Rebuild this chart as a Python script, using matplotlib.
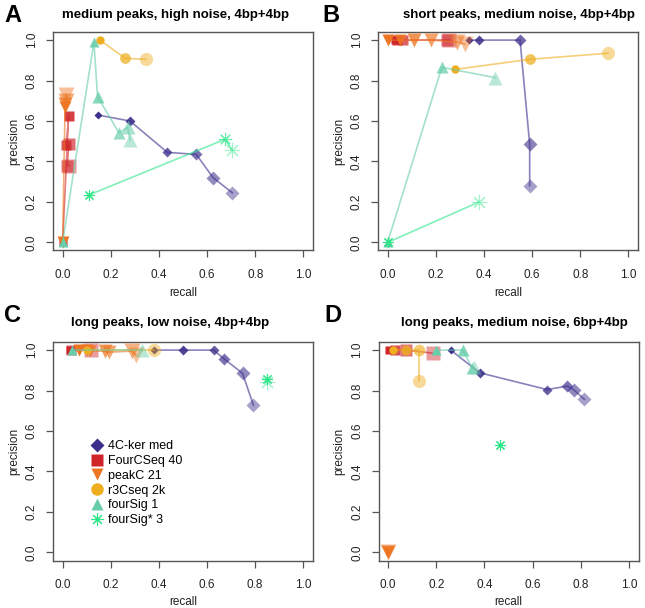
import matplotlib
matplotlib.use("Agg")
import matplotlib.pyplot as plt
from matplotlib.lines import Line2D
import numpy as np

plt.rcParams['font.family'] = ['Liberation Sans', 'DejaVu Sans']

methods = ['4C-ker med', 'FourCSeq 40', 'peakC 21', 'r3Cseq 2k', 'fourSig 1', 'fourSig* 3']
colors = ['#3b2f8c', '#d0262b', '#ee7521', '#eeae1f', '#66cda8', '#2fe58a']
markers = ['D', 's', 'v', 'o', '^', (8, 2, 0)]
size_range = [(4.0, 7.5), (6.0, 9.5), (8.0, 12.0), (6.0, 9.5), (7.0, 10.5), (8.0, 11.0)]

panel_titles = ['medium peaks, high noise, 4bp+4bp',
                'short peaks, medium noise, 4bp+4bp',
                'long peaks, low noise, 4bp+4bp',
                'long peaks, medium noise, 6bp+4bp']
panel_letters = ['A', 'B', 'C', 'D']

# recall / precision per panel, per method
recall_A = [[0.145, 0.28, 0.435, 0.555, 0.625, 0.705],
            [0.0, 0.025, 0.015, 0.025, 0.02, 0.028],
            [0.0, 0.01, 0.01, 0.015, 0.015],
            [0.155, 0.26, 0.345],
            [0.0, 0.13, 0.145, 0.235, 0.27, 0.28],
            [0.11, 0.675, 0.705]]
precision_A = [[0.63, 0.60, 0.445, 0.435, 0.32, 0.245],
               [0.0, 0.625, 0.48, 0.485, 0.38, 0.38],
               [0.0, 0.67, 0.685, 0.70, 0.73],
               [1.0, 0.91, 0.905],
               [0.0, 0.99, 0.72, 0.54, 0.57, 0.505],
               [0.235, 0.51, 0.455]]

recall_B = [[0.34, 0.38, 0.55, 0.59, 0.59],
            [0.03, 0.04, 0.065, 0.245, 0.255],
            [0.0, 0.05, 0.11, 0.18, 0.29, 0.32],
            [0.28, 0.59, 0.915],
            [0.0, 0.225, 0.445],
            [0.0, 0.38]]
precision_B = [[1.0, 1.0, 1.0, 0.486, 0.28],
               [1.0, 1.0, 1.0, 1.0, 1.0],
               [1.0, 1.0, 1.0, 1.0, 0.99, 0.98],
               [0.855, 0.905, 0.935],
               [0.0, 0.865, 0.815],
               [0.0, 0.2]]

recall_C = [[0.38, 0.5, 0.628, 0.672, 0.749, 0.794],
            [0.03, 0.035, 0.12],
            [0.07, 0.1, 0.115, 0.175, 0.195, 0.29, 0.305],
            [0.1, 0.38],
            [0.04, 0.33],
            [0.85, 0.85]]
precision_C = [[1.0, 1.0, 1.0, 0.957, 0.885, 0.728],
               [1.0, 1.0, 1.0],
               [1.0, 1.0, 0.995, 0.995, 0.99, 0.995, 0.975],
               [1.0, 1.0],
               [1.0, 1.0],
               [0.855, 0.84]]

recall_D = [[0.26, 0.38, 0.66, 0.745, 0.77, 0.815],
            [0.005, 0.03, 0.075, 0.185],
            [0.0, 0.0, 0.0],
            [0.02, 0.075, 0.13, 0.13],
            [0.2, 0.31, 0.35, 0.355],
            [0.465]]
precision_D = [[1.0, 0.888, 0.805, 0.822, 0.805, 0.757],
               [1.0, 1.0, 1.0, 0.985],
               [0.0, 0.0, 0.0],
               [1.0, 1.0, 1.0, 0.845],
               [1.0, 1.0, 0.91, 0.915],
               [0.53]]

recalls = [recall_A, recall_B, recall_C, recall_D]
precisions = [precision_A, precision_B, precision_C, precision_D]

W, H = 645, 608
fig = plt.figure(figsize=(W / 100, H / 100), dpi=100)

# axes boxes in pixels: left, top, width, height
boxes = [(53, 32, 260, 218.5), (378, 32, 260, 218.5),
         (53, 342, 259.5, 218.5), (378.5, 342, 260, 218.5)]
title_pos = [(175, 15), (519, 15), (170, 323), (514, 323)]
letter_pos = [(13, 15), (331, 15), (12.5, 316), (333, 316)]
xlabel_y = [293, 293, 602, 602]

for p in range(4):
    l, t, w, h = boxes[p]
    ax = fig.add_axes([l / W, 1 - (t + h) / H, w / W, h / H])
    for i in range(len(methods)):
        xs = recalls[p][i]
        ys = precisions[p][i]
        n = len(xs)
        ax.plot(xs, ys, '-', color=colors[i], alpha=0.6, lw=1.2, zorder=2 + i)
        ms = np.linspace(size_range[i][0], size_range[i][1], n) if n > 1 else [size_range[i][0]]
        al = np.linspace(1.0, 0.45, n) if n > 1 else [1.0]
        for k in range(n):
            if markers[i] == (8, 2, 0):
                ax.plot(xs[k], ys[k], marker=markers[i], ms=ms[k], color=colors[i],
                        mew=0.8, alpha=al[k], ls='none', zorder=2 + i)
            else:
                ax.plot(xs[k], ys[k], marker=markers[i], ms=ms[k], color=colors[i],
                        mec='none', alpha=al[k], ls='none', zorder=2 + i)
    ax.set_xlim(-0.04, 1.04)
    ax.set_ylim(-0.04, 1.04)
    ticks = [0.0, 0.2, 0.4, 0.6, 0.8, 1.0]
    ax.set_xticks(ticks)
    ax.set_yticks(ticks)
    ax.set_xticklabels(['%.1f' % v for v in ticks], fontsize=8.5)
    ax.set_yticklabels(['%.1f' % v for v in ticks], fontsize=8.5, rotation=90, va='center')
    ax.tick_params(length=5, width=0.9, color='#555555', pad=8, labelcolor='#222222')
    ax.tick_params(axis='y', pad=6)
    for s in ax.spines.values():
        s.set_color('#555555')
        s.set_linewidth(1.0)
    ax.set_ylabel('precision', fontsize=8.5, color='#222222', labelpad=4)
    fig.text((l + w / 2) / W, 1 - xlabel_y[p] / H, 'recall', fontsize=8.5,
             color='#222222', ha='center', va='center')
    fig.text(title_pos[p][0] / W, 1 - title_pos[p][1] / H, panel_titles[p],
             fontsize=9.5, fontweight='bold', ha='center', va='center')
    fig.text(letter_pos[p][0] / W, 1 - letter_pos[p][1] / H, panel_letters[p],
             fontsize=17, fontweight='bold', ha='center', va='center')

    if p == 2:
        handles = []
        for i in range(len(methods)):
            if markers[i] == (8, 2, 0):
                handles.append(Line2D([], [], marker=markers[i], color=colors[i], ls='none',
                                      ms=9, mew=0.8))
            else:
                handles.append(Line2D([], [], marker=markers[i], color=colors[i], ls='none',
                                      ms=9 if markers[i] != 'D' else 7, mec='none'))
        ax.legend(handles, methods, loc='upper left', bbox_to_anchor=(0.145, 0.55),
                  frameon=False, fontsize=9, handlelength=1.0, handletextpad=0.4,
                  labelspacing=0.22, borderpad=0, borderaxespad=0)

fig.savefig('out.png', dpi=100)
